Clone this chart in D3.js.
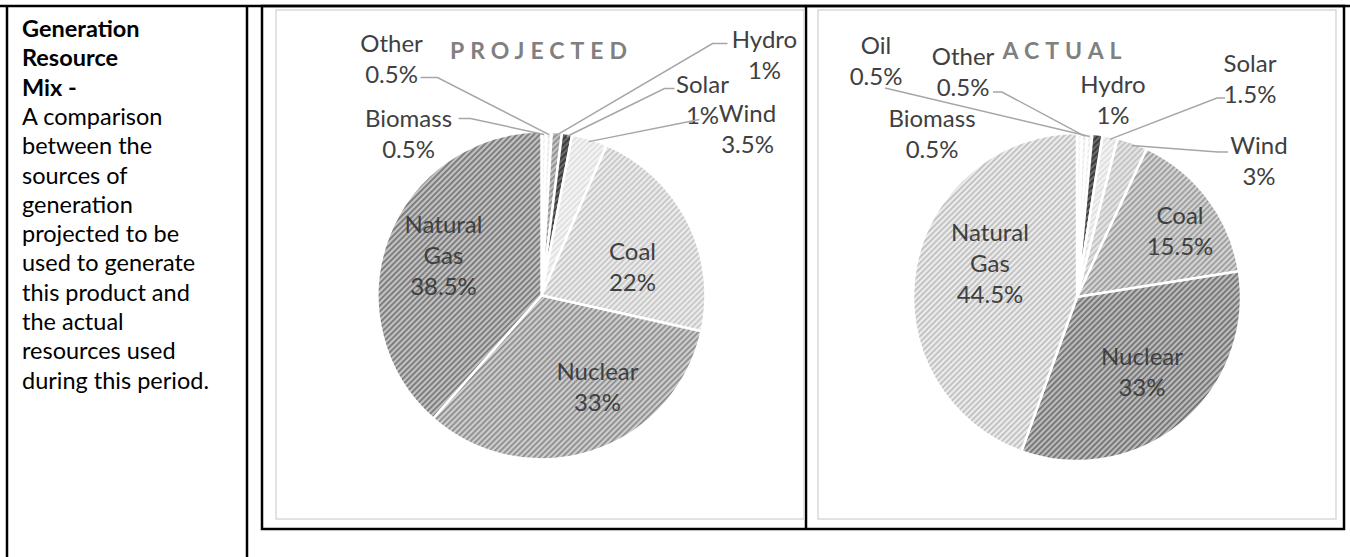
<!DOCTYPE html>
<html>
<head>
<meta charset="utf-8">
<script src="https://cdn.jsdelivr.net/npm/d3@7"></script>
<style>
  body { margin: 0; background: #fff; }
  svg { display: block; }
</style>
</head>
<body>
<svg id="chart" width="1350" height="557"></svg>
<script>
'use strict';

// data (slice order clockwise from 12 o'clock)
var projectedNames = ["Biomass", "Other", "Hydro", "Solar", "Wind", "Coal", "Nuclear", "Natural Gas"];
var projectedValues = [0.5, 0.5, 1, 1, 3.5, 22, 33, 38.5];
var actualNames = ["Biomass", "Other", "Oil", "Hydro", "Solar", "Wind", "Coal", "Nuclear", "Natural Gas"];
var actualValues = [0.5, 0.5, 0.5, 1, 1.5, 3, 15.5, 33, 44.5];
var chartTitles = ["PROJECTED", "ACTUAL"];
var noteHead = ["Generation", "Resource", "Mix -"];
var noteBody = ["A comparison", "between the", "sources of", "generation", "projected to be",
  "used to generate", "this product and", "the actual", "resources used", "during this period."];

// hatch fills: [background, line]
var projectedFills = [["#fbfbfb", "#eeeeee"], ["#f6f6f6", "#e4e4e4"], ["#c4c4c4", "#8c8c8c"], ["#6a6a6a", "#333333"],
  ["#f4f4f4", "#dedede"], ["#ececec", "#c4c4c4"], ["#cecece", "#8a8a8a"], ["#c2c2c2", "#747474"]];
var actualFills = [["#fbfbfb", "#eeeeee"], ["#f6f6f6", "#e6e6e6"], ["#f8f8f8", "#e8e8e8"], ["#6a6a6a", "#333333"],
  ["#f3f3f3", "#dddddd"], ["#e4e4e4", "#c0c0c0"], ["#d4d4d4", "#999999"], ["#bcbcbc", "#6e6e6e"], ["#ececec", "#bdbdbd"]];

// label placement, relative to the pie centre
var projectedLabels = {
  "Biomass": {at: [-133, -163], lead: [[-83, -177], [-71, -177]]},
  "Other": {at: [-150, -238], lead: [[-121, -218], [-104, -218]]},
  "Hydro": {at: [223, -242], lead: [[186, -252], [171, -252]]},
  "Solar": {at: [161, -197], lead: [[133, -207], [123, -207]]},
  "Wind": {at: [206, -168], lead: [[158, -176]]},
  "Coal": {at: [91, -30]},
  "Nuclear": {at: [56, 90]},
  "Natural Gas": {at: [-98, -41]}
};
var actualLabels = {
  "Biomass": {at: [-145, -164]},
  "Other": {at: [-114, -226], lead: [[-84, -205], [-75, -205]]},
  "Oil": {at: [-201, -237], lead: [[-192, -209]]},
  "Hydro": {at: [36, -198]},
  "Solar": {at: [173, -219], lead: [[148, -199], [140, -199]]},
  "Wind": {at: [182, -137], lead: [[151, -145], [141, -145]]},
  "Coal": {at: [103, -67]},
  "Nuclear": {at: [65, 74]},
  "Natural Gas": {at: [-87, -35]}
};

var svg = d3.select("#chart");
var defs = svg.append("defs");
var font = "Lato, 'Open Sans', sans-serif";
var radius = 164;

// table lines
var frame = svg.append("g").attr("stroke", "#000").attr("stroke-width", 2.5).attr("fill", "none");
frame.append("line").attr("x1", 0).attr("x2", 1350).attr("y1", 6).attr("y2", 6);
frame.append("line").attr("x1", 7).attr("x2", 7).attr("y1", 6).attr("y2", 557);
frame.append("line").attr("x1", 247).attr("x2", 247).attr("y1", 6).attr("y2", 557);
frame.append("rect").attr("x", 262).attr("y", 6).attr("width", 1082).attr("height", 523);
frame.append("line").attr("x1", 806).attr("x2", 806).attr("y1", 6).attr("y2", 529);

svg.append("rect").attr("x", 276).attr("y", 10).attr("width", 528).attr("height", 509)
  .attr("fill", "none").attr("stroke", "#d9d9d9").attr("stroke-width", 1.5);
svg.append("rect").attr("x", 818).attr("y", 10).attr("width", 518).attr("height", 509)
  .attr("fill", "none").attr("stroke", "#d9d9d9").attr("stroke-width", 1.5);

// left column note
var note = svg.append("g").attr("font-family", font).attr("font-size", "23.5px").attr("fill", "#000");
noteHead.concat(noteBody).forEach(function(t, i) {
  note.append("text")
    .attr("x", 22)
    .attr("y", 28 + i * 29.3)
    .attr("dominant-baseline", "central")
    .attr("font-weight", i < noteHead.length ? "bold" : "normal")
    .text(t);
});

var makeFill = function(id, c) {
  var p = defs.append("pattern")
    .attr("id", id)
    .attr("patternUnits", "userSpaceOnUse")
    .attr("width", 4).attr("height", 4)
    .attr("patternTransform", "rotate(45)");
  p.append("rect").attr("width", 4).attr("height", 4).attr("fill", c[0]);
  p.append("rect").attr("width", 1.7).attr("height", 4).attr("fill", c[1]);
  return "url(#" + id + ")";
};

var drawPie = function(key, cx, cy, names, values, fills, labels, title, titleDx) {
  var data = names.map(function(n, i) { return {name: n, value: values[i]}; });
  var pie = d3.pie().sort(null).value(function(d) { return d.value; });
  var arc = d3.arc().innerRadius(0).outerRadius(radius);
  var edge = d3.arc().innerRadius(radius - 3).outerRadius(radius - 3);
  var g = svg.append("g").attr("transform", "translate(" + cx + "," + cy + ")");

  g.selectAll("path.slice")
    .data(pie(data))
    .enter()
    .append("path")
    .attr("class", "slice")
    .attr("d", arc)
    .attr("fill", function(d, i) { return makeFill(key + i, fills[i]); })
    .attr("stroke", "#fff")
    .attr("stroke-width", 2.5)
    .attr("stroke-linejoin", "round");

  g.append("text")
    .attr("x", titleDx)
    .attr("y", 50 - cy)
    .attr("dominant-baseline", "central")
    .attr("text-anchor", "middle")
    .attr("font-family", font)
    .attr("font-weight", "bold")
    .attr("font-size", "23px")
    .attr("letter-spacing", "6px")
    .attr("fill", "#808080")
    .text(title);

  pie(data).forEach(function(d) {
    var spec = labels[d.data.name];
    if (spec.lead) {
      var pts = spec.lead.concat([edge.centroid(d)]);
      g.append("path")
        .attr("d", d3.line()(pts))
        .attr("fill", "none")
        .attr("stroke", "#a6a6a6")
        .attr("stroke-width", 1.5);
    }
    var lines = d.data.name.split(" ").concat([d.data.value + "%"]);
    var top = spec.at[1] - (lines.length - 1) * 31 / 2;
    g.append("g").selectAll("text")
      .data(lines)
      .enter()
      .append("text")
      .attr("x", spec.at[0])
      .attr("y", function(t, i) { return top + i * 31; })
      .attr("dominant-baseline", "central")
      .attr("text-anchor", "middle")
      .attr("font-family", font)
      .attr("font-size", "24px")
      .attr("fill", "#404040")
      .text(function(t) { return t; });
  });
};

drawPie("p", 541.5, 295.5, projectedNames, projectedValues, projectedFills, projectedLabels, chartTitles[0], 0);
drawPie("a", 1077, 297, actualNames, actualValues, actualFills, actualLabels, chartTitles[1], -12);
</script>
</body>
</html>
